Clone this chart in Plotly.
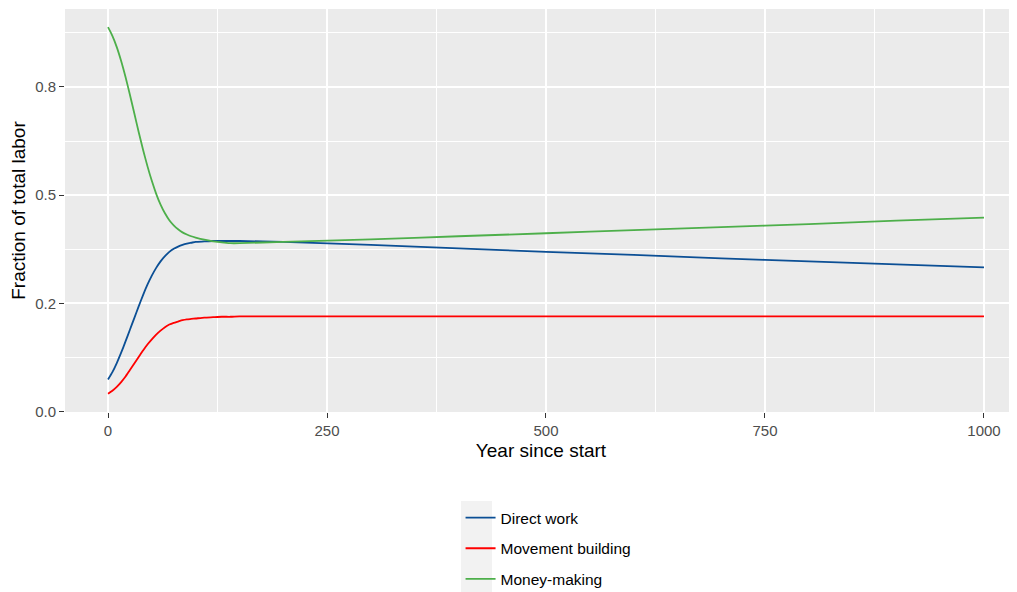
import plotly.graph_objects as go

# years since start and the fraction of labour in each activity
years = [0, 5, 10, 15, 20, 25, 30, 35, 40, 45, 50, 55, 60, 65, 70, 75, 80, 85, 90, 95, 100,
         110, 120, 130, 140, 150, 200, 300, 400, 500, 600, 700, 800, 900, 1000]
direct = [0.074, 0.091, 0.112, 0.136, 0.162, 0.189, 0.216, 0.243, 0.269, 0.293, 0.314, 0.332, 0.347, 0.359,
          0.369, 0.376, 0.381, 0.385, 0.388, 0.390, 0.392,
          0.393, 0.394, 0.394, 0.394, 0.394, 0.392, 0.385, 0.377, 0.369, 0.362, 0.354, 0.347, 0.340, 0.333]
movement = [0.041, 0.048, 0.057, 0.068, 0.081, 0.096, 0.111, 0.126, 0.141, 0.155, 0.167, 0.178, 0.187, 0.195,
            0.201, 0.205, 0.208, 0.211, 0.213, 0.214, 0.215,
            0.217, 0.218, 0.219, 0.219, 0.220, 0.220, 0.220, 0.220, 0.220, 0.220, 0.220, 0.220, 0.220, 0.220]
money = [0.888, 0.868, 0.842, 0.810, 0.773, 0.732, 0.689, 0.646, 0.605, 0.567, 0.533, 0.503, 0.478, 0.458,
         0.442, 0.430, 0.421, 0.414, 0.409, 0.405, 0.402,
         0.397, 0.393, 0.391, 0.389, 0.389, 0.392, 0.398, 0.405, 0.412, 0.419, 0.426, 0.433, 0.441, 0.448]

series = ['Direct work', 'Movement building', 'Money-making']
colors = ['#0b4f95', '#ff0000', '#4daf4a']

y_ticks = [0, 0.25, 0.5, 0.75]
y_labels = ['0.0', '0.2', '0.5', '0.8']
x_ticks = [0, 250, 500, 750, 1000]

fig = go.Figure()
for name, vals, col in zip(series, [direct, movement, money], colors):
    fig.add_trace(go.Scatter(x=years, y=vals, name=name, mode='lines', legendgroup=name,
                             line=dict(color=col, width=1.8, shape='spline', smoothing=0.6)))

# grey key background like ggplot's legend keys
fig.add_shape(type='rect', xref='paper', yref='paper', x0=0.416, x1=0.4485, y0=-0.47, y1=-0.2208,
              fillcolor='#f2f2f2', line_width=0, layer='below')

# page body has an 8px margin, so the figure is shrunk and shifted to compensate
fig.update_layout(
    width=1009, height=584,
    margin=dict(l=57, r=0, t=1, b=180),
    paper_bgcolor='white', plot_bgcolor='#ebebeb',
    font=dict(family='Liberation Sans, Arial, sans-serif', color='#4d4d4d', size=15),
    showlegend=True,
    legend=dict(x=0.4155, xanchor='left', y=0.1558, yref='container', yanchor='top', orientation='v',
                font=dict(size=15.5, color='black'), tracegroupgap=7.5, bgcolor='rgba(0,0,0,0)'),
)
fig.update_xaxes(range=[-49.1, 1037.7], tickvals=x_ticks, ticks='outside', ticklen=5, tickcolor='#333333',
                 showgrid=True, gridcolor='white', gridwidth=1.6, zeroline=False, showline=False,
                 minor=dict(dtick=125, tick0=0, showgrid=True, gridcolor='white', gridwidth=0.8),
                 title=dict(text='Year since start', font=dict(size=19, color='black'), standoff=5),
                 tickfont=dict(size=15, color='#4d4d4d'))
fig.update_yaxes(range=[-0.001, 0.93], tickvals=y_ticks, ticktext=y_labels, ticks='outside', ticklen=5,
                 tickcolor='#333333', showgrid=True, gridcolor='white', gridwidth=1.6, zeroline=False, showline=False,
                 minor=dict(dtick=0.125, tick0=0, showgrid=True, gridcolor='white', gridwidth=0.8),
                 title=dict(text='Fraction of total labor', font=dict(size=19, color='black'), standoff=6),
                 tickfont=dict(size=15, color='#4d4d4d'))

fig.write_html("out.html")
